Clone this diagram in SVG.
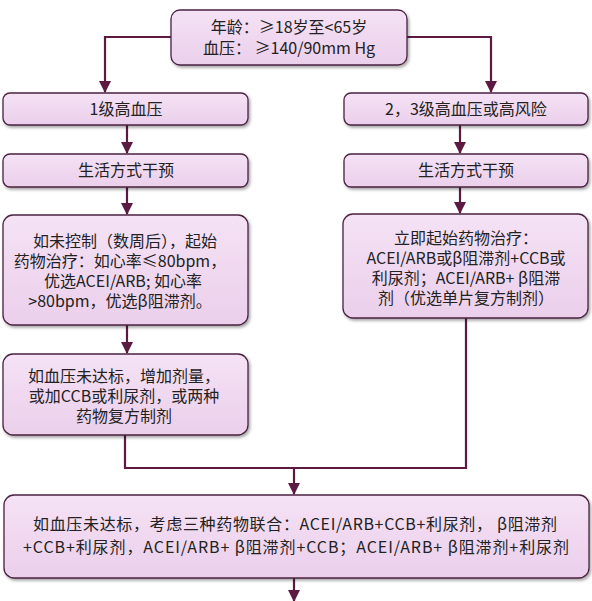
<svg xmlns="http://www.w3.org/2000/svg" width="592" height="601" viewBox="0 0 592 601">
<defs>
<linearGradient id="g" x1="0" y1="0" x2="0" y2="1">
<stop offset="0" stop-color="#f5e2f5"/>
<stop offset="1" stop-color="#ebcfeb"/>
</linearGradient>
<filter id="sh" x="-5%" y="-10%" width="110%" height="130%">
<feDropShadow dx="1.5" dy="2" stdDeviation="1.5" flood-color="#000" flood-opacity="0.35"/>
</filter>
<marker id="ah" markerUnits="userSpaceOnUse" markerWidth="12" markerHeight="12" viewBox="0 0 12 12" refX="11" refY="6" orient="auto">
<path d="M0,0 L12,6 L0,12 Z" fill="#5c1a43"/>
</marker>
</defs>
<style>
.box{fill:url(#g);stroke:#4a2341;stroke-width:1.3;filter:url(#sh)}
.t{font-family:"Noto Sans CJK SC","Noto Sans",sans-serif;font-size:16px;fill:#222;text-anchor:middle}
.c{fill:none;stroke:#5c1a43;stroke-width:2.2}
</style>
<rect width="592" height="601" fill="#fff"/>
<g id="connectors">
<path class="c" d="M171,37 H105 V92" marker-end="url(#ah)"/>
<path class="c" d="M407,37 H491 V92" marker-end="url(#ah)"/>
<path class="c" d="M127,125 V153" marker-end="url(#ah)"/>
<path class="c" d="M127,187 V214" marker-end="url(#ah)"/>
<path class="c" d="M127,325 V353" marker-end="url(#ah)"/>
<path class="c" d="M460,125 V153" marker-end="url(#ah)"/>
<path class="c" d="M460,187 V213" marker-end="url(#ah)"/>
<path class="c" d="M125,435 V468 H466 V318"/>
<path class="c" d="M294,468 V494" marker-end="url(#ah)"/>
<path class="c" d="M294,578 V601" marker-end="url(#ah)"/>
</g>
<g id="start">
<rect class="box" x="171" y="10" width="236" height="55" rx="9"/>
<text class="t" x="289" y="33">年龄：≥18岁至&lt;65岁</text>
<text class="t" x="289" y="54">血压：  ≥140/90mm Hg</text>
</g>
<g id="grade1">
<rect class="box" x="3" y="93" width="245" height="32" rx="7"/>
<text class="t" x="126" y="115">1级高血压</text>
</g>
<g id="life1">
<rect class="box" x="3" y="154" width="245" height="33" rx="7"/>
<text class="t" x="126" y="176">生活方式干预</text>
</g>
<g id="drug1">
<rect class="box" x="3" y="215" width="245" height="110" rx="10"/>
<text class="t" x="125" y="247">如未控制（数周后），起始</text>
<text class="t" x="120" y="267">药物治疗：如心率≤80bpm，</text>
<text class="t" x="123" y="287">优选ACEI/ARB; 如心率</text>
<text class="t" x="120" y="307">&gt;80bpm，优选β阻滞剂。</text>
</g>
<g id="add1">
<rect class="box" x="3" y="354" width="245" height="81" rx="10"/>
<text class="t" x="124" y="382">如血压未达标，增加剂量，</text>
<text class="t" x="124" y="402">或加CCB或利尿剂，或两种</text>
<text class="t" x="124" y="422">药物复方制剂</text>
</g>
<g id="grade23">
<rect class="box" x="344" y="93" width="244" height="32" rx="7"/>
<text class="t" x="466" y="115">2，3级高血压或高风险</text>
</g>
<g id="life2">
<rect class="box" x="344" y="154" width="244" height="33" rx="7"/>
<text class="t" x="466" y="176">生活方式干预</text>
</g>
<g id="drug2">
<rect class="box" x="343" y="214" width="245" height="104" rx="10"/>
<text class="t" x="466" y="244">立即起始药物治疗：</text>
<text class="t" x="466" y="264">ACEI/ARB或β阻滞剂+CCB或</text>
<text class="t" x="466" y="284">利尿剂；ACEI/ARB+ β阻滞</text>
<text class="t" x="466" y="304">剂（优选单片复方制剂）</text>
</g>
<g id="triple">
<rect class="box" x="4" y="495" width="585" height="83" rx="10"/>
<text class="t" x="295" y="530" textLength="524" lengthAdjust="spacing">如血压未达标，考虑三种药物联合：ACEI/ARB+CCB+利尿剂， β阻滞剂</text>
<text class="t" x="296" y="553" textLength="546" lengthAdjust="spacing">+CCB+利尿剂，ACEI/ARB+ β阻滞剂+CCB；ACEI/ARB+ β阻滞剂+利尿剂</text>
</g>
</svg>
